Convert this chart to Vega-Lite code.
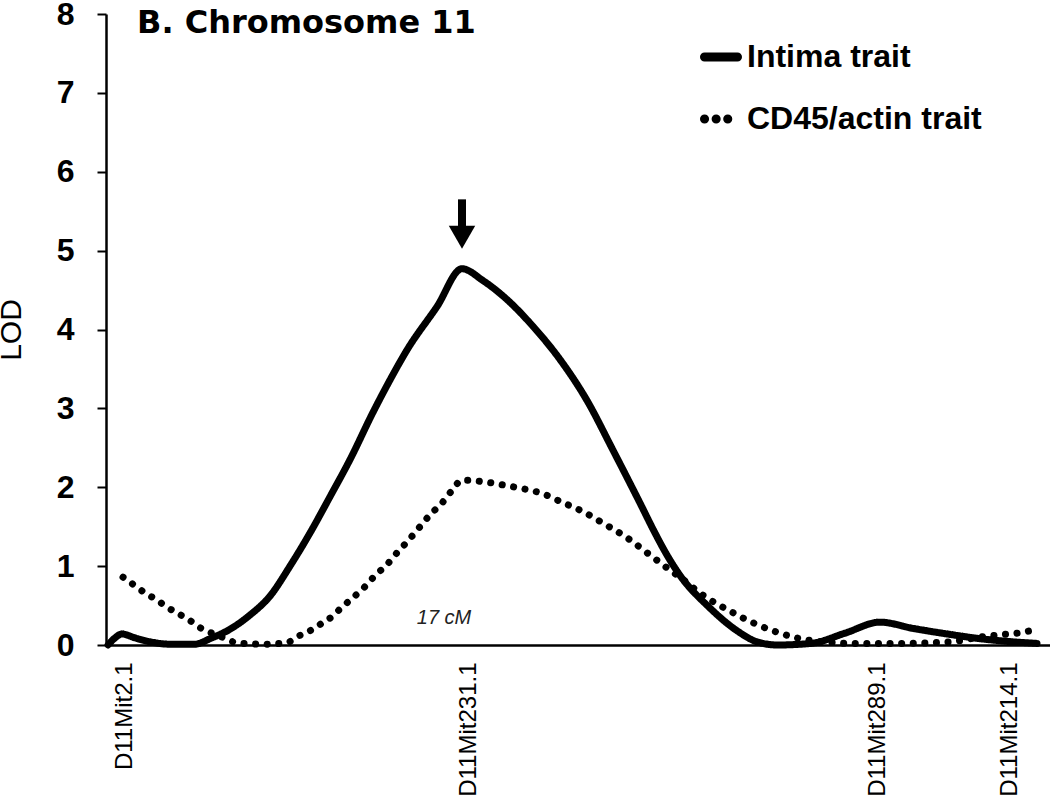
{
  "$schema": "https://vega.github.io/schema/vega-lite/v6.json",
  "width": 944,
  "height": 631,
  "autosize": {"type": "none"},
  "padding": {"left": 106, "top": 14, "right": 0, "bottom": 154},
  "background": "white",
  "title": {"text": "B. Chromosome 11", "anchor": "start", "frame": "group", "font": "DejaVu Sans", "fontSize": 32, "fontWeight": "bold", "color": "black", "dx": 31, "offset": -42, "baseline": "top"},
  "config": {
    "view": {"stroke": null},
    "font": "Liberation Sans",
    "axisX": {
      "labelAngle": 270,
      "labelFontSize": 24,
      "labelFont": "Liberation Sans",
      "labelColor": "black",
      "labelPadding": 17,
      "labelOverlap": false,
      "labelFlush": false,
      "labelBound": false,
      "ticks": false,
      "grid": false,
      "domainColor": "black",
      "domainWidth": 2.5,
      "title": null
    },
    "axisY": {
      "labelFontSize": 32,
      "labelFontWeight": "bold",
      "labelFont": "Liberation Sans",
      "labelColor": "black",
      "labelPadding": 23,
      "labelOverlap": false,
      "tickSize": 9,
      "tickWidth": 2,
      "tickColor": "black",
      "domainColor": "black",
      "domainWidth": 2.5,
      "grid": false,
      "titleFont": "Liberation Sans",
      "titleFontSize": 30,
      "titleFontWeight": "normal",
      "titleColor": "black",
      "titlePadding": 30
    }
  },
  "datasets": {
    "lod": [
      {"trait": "Intima trait", "cM": -0.7, "LOD": 0.0},
      {"trait": "Intima trait", "cM": -0.35, "LOD": 0.09},
      {"trait": "Intima trait", "cM": 0.0, "LOD": 0.14},
      {"trait": "Intima trait", "cM": 0.65, "LOD": 0.09},
      {"trait": "Intima trait", "cM": 1.4, "LOD": 0.04},
      {"trait": "Intima trait", "cM": 2.4, "LOD": 0.01},
      {"trait": "Intima trait", "cM": 3.65, "LOD": 0.01},
      {"trait": "Intima trait", "cM": 4.4, "LOD": 0.08},
      {"trait": "Intima trait", "cM": 5.4, "LOD": 0.2},
      {"trait": "Intima trait", "cM": 6.4, "LOD": 0.38},
      {"trait": "Intima trait", "cM": 7.4, "LOD": 0.62},
      {"trait": "Intima trait", "cM": 8.4, "LOD": 1.0},
      {"trait": "Intima trait", "cM": 9.4, "LOD": 1.42},
      {"trait": "Intima trait", "cM": 10.4, "LOD": 1.88},
      {"trait": "Intima trait", "cM": 11.4, "LOD": 2.35},
      {"trait": "Intima trait", "cM": 12.55, "LOD": 2.95},
      {"trait": "Intima trait", "cM": 13.4, "LOD": 3.36},
      {"trait": "Intima trait", "cM": 14.25, "LOD": 3.74},
      {"trait": "Intima trait", "cM": 15.75, "LOD": 4.29},
      {"trait": "Intima trait", "cM": 17.0, "LOD": 4.77},
      {"trait": "Intima trait", "cM": 18.05, "LOD": 4.62},
      {"trait": "Intima trait", "cM": 19.25, "LOD": 4.38},
      {"trait": "Intima trait", "cM": 20.55, "LOD": 4.04},
      {"trait": "Intima trait", "cM": 21.9, "LOD": 3.62},
      {"trait": "Intima trait", "cM": 23.25, "LOD": 3.1},
      {"trait": "Intima trait", "cM": 24.55, "LOD": 2.47},
      {"trait": "Intima trait", "cM": 25.9, "LOD": 1.8},
      {"trait": "Intima trait", "cM": 26.65, "LOD": 1.42},
      {"trait": "Intima trait", "cM": 27.25, "LOD": 1.14},
      {"trait": "Intima trait", "cM": 27.85, "LOD": 0.9},
      {"trait": "Intima trait", "cM": 29.35, "LOD": 0.48},
      {"trait": "Intima trait", "cM": 30.7, "LOD": 0.19},
      {"trait": "Intima trait", "cM": 31.75, "LOD": 0.04},
      {"trait": "Intima trait", "cM": 32.75, "LOD": 0.0},
      {"trait": "Intima trait", "cM": 34.45, "LOD": 0.02},
      {"trait": "Intima trait", "cM": 36.15, "LOD": 0.15},
      {"trait": "Intima trait", "cM": 37.9, "LOD": 0.29},
      {"trait": "Intima trait", "cM": 39.55, "LOD": 0.21},
      {"trait": "Intima trait", "cM": 41.25, "LOD": 0.14},
      {"trait": "Intima trait", "cM": 42.9, "LOD": 0.08},
      {"trait": "Intima trait", "cM": 44.55, "LOD": 0.04},
      {"trait": "Intima trait", "cM": 45.75, "LOD": 0.02},
      {"trait": "CD45/actin trait", "cM": 0.05, "LOD": 0.86},
      {"trait": "CD45/actin trait", "cM": 0.55, "LOD": 0.77},
      {"trait": "CD45/actin trait", "cM": 1.15, "LOD": 0.66},
      {"trait": "CD45/actin trait", "cM": 1.75, "LOD": 0.57},
      {"trait": "CD45/actin trait", "cM": 2.25, "LOD": 0.48},
      {"trait": "CD45/actin trait", "cM": 2.8, "LOD": 0.4},
      {"trait": "CD45/actin trait", "cM": 3.4, "LOD": 0.31},
      {"trait": "CD45/actin trait", "cM": 3.9, "LOD": 0.22},
      {"trait": "CD45/actin trait", "cM": 4.5, "LOD": 0.15},
      {"trait": "CD45/actin trait", "cM": 5.0, "LOD": 0.1},
      {"trait": "CD45/actin trait", "cM": 5.55, "LOD": 0.04},
      {"trait": "CD45/actin trait", "cM": 6.05, "LOD": 0.02},
      {"trait": "CD45/actin trait", "cM": 7.15, "LOD": 0.01},
      {"trait": "CD45/actin trait", "cM": 8.25, "LOD": 0.03},
      {"trait": "CD45/actin trait", "cM": 8.8, "LOD": 0.11},
      {"trait": "CD45/actin trait", "cM": 9.4, "LOD": 0.18},
      {"trait": "CD45/actin trait", "cM": 9.9, "LOD": 0.26},
      {"trait": "CD45/actin trait", "cM": 10.5, "LOD": 0.36},
      {"trait": "CD45/actin trait", "cM": 11.0, "LOD": 0.48},
      {"trait": "CD45/actin trait", "cM": 11.55, "LOD": 0.6},
      {"trait": "CD45/actin trait", "cM": 12.15, "LOD": 0.74},
      {"trait": "CD45/actin trait", "cM": 12.65, "LOD": 0.88},
      {"trait": "CD45/actin trait", "cM": 13.25, "LOD": 1.02},
      {"trait": "CD45/actin trait", "cM": 13.75, "LOD": 1.17},
      {"trait": "CD45/actin trait", "cM": 14.3, "LOD": 1.32},
      {"trait": "CD45/actin trait", "cM": 14.9, "LOD": 1.5},
      {"trait": "CD45/actin trait", "cM": 15.4, "LOD": 1.65},
      {"trait": "CD45/actin trait", "cM": 16.0, "LOD": 1.8},
      {"trait": "CD45/actin trait", "cM": 16.5, "LOD": 1.96},
      {"trait": "CD45/actin trait", "cM": 17.0, "LOD": 2.09},
      {"trait": "CD45/actin trait", "cM": 18.05, "LOD": 2.07},
      {"trait": "CD45/actin trait", "cM": 19.25, "LOD": 2.02},
      {"trait": "CD45/actin trait", "cM": 20.25, "LOD": 1.97},
      {"trait": "CD45/actin trait", "cM": 20.9, "LOD": 1.93},
      {"trait": "CD45/actin trait", "cM": 22.0, "LOD": 1.81},
      {"trait": "CD45/actin trait", "cM": 23.05, "LOD": 1.69},
      {"trait": "CD45/actin trait", "cM": 24.15, "LOD": 1.53},
      {"trait": "CD45/actin trait", "cM": 25.25, "LOD": 1.36},
      {"trait": "CD45/actin trait", "cM": 26.3, "LOD": 1.16},
      {"trait": "CD45/actin trait", "cM": 27.4, "LOD": 0.95},
      {"trait": "CD45/actin trait", "cM": 28.0, "LOD": 0.84},
      {"trait": "CD45/actin trait", "cM": 29.0, "LOD": 0.64},
      {"trait": "CD45/actin trait", "cM": 30.4, "LOD": 0.43},
      {"trait": "CD45/actin trait", "cM": 31.75, "LOD": 0.26},
      {"trait": "CD45/actin trait", "cM": 32.9, "LOD": 0.15},
      {"trait": "CD45/actin trait", "cM": 33.9, "LOD": 0.08},
      {"trait": "CD45/actin trait", "cM": 35.1, "LOD": 0.04},
      {"trait": "CD45/actin trait", "cM": 36.4, "LOD": 0.02},
      {"trait": "CD45/actin trait", "cM": 38.9, "LOD": 0.02},
      {"trait": "CD45/actin trait", "cM": 41.4, "LOD": 0.04},
      {"trait": "CD45/actin trait", "cM": 42.9, "LOD": 0.1},
      {"trait": "CD45/actin trait", "cM": 43.9, "LOD": 0.13},
      {"trait": "CD45/actin trait", "cM": 44.75, "LOD": 0.15},
      {"trait": "CD45/actin trait", "cM": 45.6, "LOD": 0.19}
    ]
  },
  "layer": [
    {
      "data": {"name": "lod"},
      "mark": {"type": "line", "strokeCap": "round", "strokeWidth": 7, "color": "black", "interpolate": "monotone"},
      "encoding": {
        "x": {
          "field": "cM", "type": "quantitative",
          "scale": {"domain": [-0.8, 46.4], "nice": false, "zero": false},
          "axis": {
            "values": [0.1, 17.3, 37.75, 44.35],
            "labelExpr": "datum.value < 5 ? 'D11Mit2.1' : datum.value < 25 ? 'D11Mit231.1' : datum.value < 40 ? 'D11Mit289.1' : 'D11Mit214.1'"
          }
        },
        "y": {
          "field": "LOD", "type": "quantitative",
          "scale": {"domain": [0, 8], "nice": false},
          "axis": {
            "values": [0, 0.5, 1, 1.5, 2, 2.5, 3, 3.5, 4, 4.5, 5, 5.5, 6, 6.5, 7, 7.5, 8],
            "labelExpr": "datum.value % 1 === 0 ? format(datum.value, 'd') : ''",
            "title": "LOD"
          }
        },
        "strokeDash": {
          "field": "trait", "type": "nominal",
          "scale": {"domain": ["Intima trait", "CD45/actin trait"], "range": [[1, 0], [0.1, 11.5]]},
          "legend": {
            "orient": "none",
            "legendX": 594,
            "legendY": 22,
            "title": null,
            "padding": 0,
            "symbolType": "stroke",
            "symbolSize": 1089,
            "symbolStrokeWidth": 9,
            "symbolStrokeColor": "black",
            "labelFontSize": 32,
            "labelFont": "Liberation Sans",
            "labelFontWeight": "bold",
            "labelColor": "black",
            "labelOffset": 5,
            "labelLimit": 400,
            "rowPadding": 23,
            "encode": {
              "symbols": {
                "update": {
                  "strokeCap": {"value": "round"},
                  "strokeDash": [
                    {"test": "datum.value === 'CD45/actin trait'", "value": [0.1, 32.8]},
                    {"value": [1, 0]}
                  ]
                }
              }
            }
          }
        }
      }
    },
    {
      "data": {"values": [{}]},
      "mark": {"type": "rule", "strokeWidth": 8, "color": "black"},
      "encoding": {
        "x": {"datum": 17, "type": "quantitative"},
        "y": {"datum": 5.65, "type": "quantitative"},
        "y2": {"datum": 5.22}
      }
    },
    {
      "data": {"values": [{}]},
      "mark": {"type": "point", "shape": "triangle-down", "size": 700, "filled": true, "color": "black", "opacity": 1},
      "encoding": {
        "x": {"datum": 17, "type": "quantitative"},
        "y": {"datum": 5.17, "type": "quantitative"}
      }
    },
    {
      "data": {"values": [{}]},
      "mark": {"type": "text", "text": "17 cM", "fontStyle": "italic", "fontSize": 20, "font": "Liberation Sans", "color": "#222222"},
      "encoding": {
        "x": {"datum": 16.1, "type": "quantitative"},
        "y": {"datum": 0.34, "type": "quantitative"}
      }
    }
  ]
}
